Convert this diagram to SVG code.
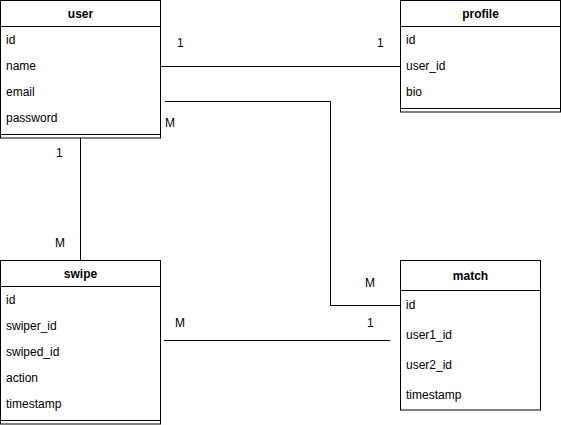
<svg xmlns="http://www.w3.org/2000/svg" width="561" height="425" viewBox="0 0 561 425">
  <style>
    text { font-family: "Liberation Sans", Arial, Helvetica, sans-serif; font-size: 12px; fill: #000; }
    .title { font-weight: bold; text-anchor: middle; }
    .box { fill: #fff; stroke: #000; stroke-width: 1; }
    .sep { stroke: #000; stroke-width: 1; fill: none; }
    .edge { stroke: #000; stroke-width: 1; fill: none; }
  </style>
  <rect width="561" height="425" fill="#fff"/>

  <!-- connectors -->
  <g id="connectors">
    <path class="edge" d="M160.5 66.5 H400.5"/>
    <text x="177" y="47">1</text>
    <text x="377" y="47">1</text>

    <path class="edge" d="M165 101.5 H330.5 V305.5 H400.5"/>
    <text x="165" y="127">M</text>
    <text x="365" y="287">M</text>

    <path class="edge" d="M80.5 138 V260"/>
    <text x="56" y="157">1</text>
    <text x="55" y="247">M</text>

    <path class="edge" d="M164 340.5 H390"/>
    <text x="175" y="327">M</text>
    <text x="367" y="327">1</text>
  </g>

  <!-- user table -->
  <g id="user">
    <rect class="box" x="0.5" y="0.5" width="160" height="137.5"/>
    <path class="sep" d="M0.5 26.5 H160.5 M0.5 134.5 H160.5"/>
    <text class="title" x="80.5" y="18">user</text>
    <text x="6" y="44">id</text>
    <text x="6" y="70">name</text>
    <text x="6" y="96">email</text>
    <text x="6" y="122">password</text>
  </g>

  <!-- profile table -->
  <g id="profile">
    <rect class="box" x="400.5" y="0.5" width="160" height="111.5"/>
    <path class="sep" d="M400.5 26.5 H560.5 M400.5 108.5 H560.5"/>
    <text class="title" x="480.5" y="18">profile</text>
    <text x="406" y="44">id</text>
    <text x="406" y="70">user_id</text>
    <text x="406" y="96">bio</text>
  </g>

  <!-- swipe table -->
  <g id="swipe">
    <rect class="box" x="0.5" y="260.5" width="160" height="163.5"/>
    <path class="sep" d="M0.5 286.5 H160.5 M0.5 420.5 H160.5"/>
    <text class="title" x="80.5" y="278">swipe</text>
    <text x="6" y="304">id</text>
    <text x="6" y="330">swiper_id</text>
    <text x="6" y="356">swiped_id</text>
    <text x="6" y="382">action</text>
    <text x="6" y="408">timestamp</text>
  </g>

  <!-- match table -->
  <g id="match">
    <rect class="box" x="400.5" y="260.5" width="140" height="149.5"/>
    <path class="sep" d="M400.5 290.5 H540.5"/>
    <text class="title" x="470.5" y="280">match</text>
    <text x="406" y="309">id</text>
    <text x="406" y="339">user1_id</text>
    <text x="406" y="369">user2_id</text>
    <text x="406" y="399">timestamp</text>
  </g>
</svg>
